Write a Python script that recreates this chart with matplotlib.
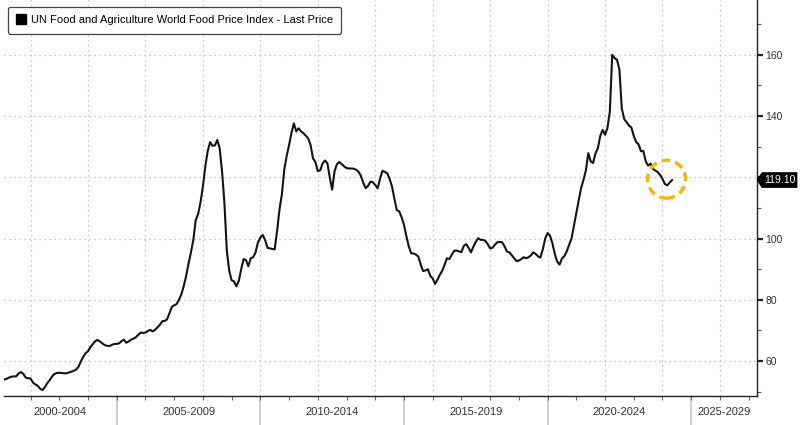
import matplotlib
matplotlib.use("Agg")
import matplotlib.pyplot as plt
import numpy as np
from matplotlib.lines import Line2D
from matplotlib.patches import Ellipse, Polygon
import matplotlib.transforms as mtrans

# ---------------- data (monthly, month-end, Jan 2001 - Apr 2024) ----------------
start_year = 2001
p2001_2004 = [54.0, 54.2, 54.6, 54.9, 55.0, 55.0, 56.0, 56.4, 55.8, 54.6, 54.4, 54.3,
              53.0, 52.4, 51.9, 51.0, 50.5, 51.5, 52.8, 53.8, 55.0, 55.8, 56.1, 56.2,
              56.1, 56.0, 56.0, 56.3, 56.5, 56.8, 57.2, 58.1, 59.8, 61.4, 62.6, 63.2,
              64.6, 65.5, 66.5, 66.9, 66.4, 65.8, 65.2, 65.0, 64.9, 65.3, 65.6, 65.6]
p2005_2009 = [65.8, 66.5, 67.0, 66.0, 66.4, 67.0, 67.3, 67.8, 68.6, 69.3, 69.2, 69.3,
              69.8, 70.2, 69.7, 70.2, 71.0, 71.8, 73.0, 73.1, 73.6, 75.5, 77.7, 78.2,
              78.6, 80.0, 81.8, 84.5, 87.8, 91.8, 95.5, 99.5, 106.0, 108.0, 111.8, 117.0,
              123.5, 128.5, 131.5, 130.3, 130.4, 132.2, 129.5, 122.0, 111.5, 96.0, 89.5, 86.4,
              86.0, 84.4, 86.2, 90.0, 93.3, 93.0, 91.0, 93.6, 93.9, 95.5, 98.8, 100.3]
p2010_2014 = [101.2, 99.5, 97.0, 96.8, 96.6, 96.5, 102.5, 109.5, 114.5, 122.5, 127.0, 130.5,
              134.5, 137.6, 135.0, 136.0, 135.0, 134.4, 133.6, 132.7, 130.5, 126.2, 125.0, 122.0,
              122.3, 124.5, 125.5, 124.6, 120.0, 116.0, 122.0, 124.3, 125.0, 124.3, 123.6, 123.0,
              122.9, 122.9, 122.8, 122.5, 121.8, 120.5, 118.2, 116.5, 117.2, 118.6, 118.4, 117.5,
              116.4, 119.5, 122.1, 121.8, 121.3, 119.5, 117.0, 113.0, 109.3, 108.9, 107.0, 104.5]
p2015_2019 = [100.8, 97.5, 95.2, 95.1, 94.8, 94.1, 91.5, 89.4, 89.6, 90.0, 87.8, 87.0,
              85.2, 86.6, 88.2, 89.5, 91.6, 93.6, 93.3, 94.8, 96.0, 96.1, 95.8, 95.6,
              97.6, 98.2, 97.0, 95.5, 97.4, 98.9, 100.1, 99.6, 99.6, 99.2, 98.2, 96.8,
              97.0, 98.0, 98.8, 98.9, 98.8, 97.5, 95.8, 95.5, 94.6, 93.6, 92.7, 92.8,
              93.3, 93.9, 93.6, 93.9, 94.5, 95.5, 95.0, 94.2, 93.8, 96.5, 100.0, 101.8]
p2020_2024 = [101.0, 98.5, 95.0, 92.5, 91.5, 93.5, 94.3, 95.8, 98.0, 100.0, 104.2, 108.5,
              112.5, 116.5, 119.2, 122.3, 127.9, 125.2, 124.7, 127.8, 129.5, 133.5, 135.5, 133.9,
              136.1, 141.5, 160.0, 158.9, 158.4, 155.1, 142.5, 139.0, 138.0, 136.9, 136.3, 133.5,
              131.5, 130.8, 128.5, 128.6, 125.2, 123.8, 124.5, 122.8, 122.2, 121.7, 120.8, 119.5,
              117.8, 117.4, 118.3, 119.1]

period_labels = ["2000-2004", "2005-2009", "2010-2014", "2015-2019", "2020-2024", "2025-2029"]
period_starts = [2000, 2005, 2010, 2015, 2020, 2025]
y_ticks = [60, 80, 100, 120, 140, 160]
series_name = "UN Food and Agriculture World Food Price Index - Last Price"

values = np.array(p2001_2004 + p2005_2009 + p2010_2014 + p2015_2019 + p2020_2024)
t = start_year + (np.arange(len(values)) + 1) / 12.0   # month-end as decimal year
last_val = values[-1]

# ---------------- figure ----------------
plt.rcParams['font.family'] = ['Liberation Sans', 'DejaVu Sans']
fig = plt.figure(figsize=(8, 4.25), dpi=100)
ax = fig.add_axes([4 / 800, 29 / 425, 753 / 800, 396 / 425])

x0, x1 = 2001.076, 2027.29
ax.set_xlim(x0, x1)
ax.set_ylim(48.6, 177.9)

ax.plot(t, values, color='#141414', lw=1.5, solid_joinstyle='round', zorder=3)

# grid
for yv in y_ticks:
    ax.axhline(yv, color='#b5b5b5', lw=0.9, ls=(0, (1, 3)), zorder=1)
for xv in range(2002, 2027, 2):
    ax.axvline(xv, color='#b5b5b5', lw=0.9, ls=(0, (1, 3)), zorder=1)

# spines
for s in ['top', 'left']:
    ax.spines[s].set_visible(False)
ax.spines['bottom'].set_color('#222222')
ax.spines['right'].set_color('#222222')
ax.spines['bottom'].set_linewidth(1.0)
ax.spines['right'].set_linewidth(1.0)

# y axis on right
ax.yaxis.tick_right()
ax.set_yticks(y_ticks)
ax.set_yticklabels([str(v) if v != 120 else "" for v in y_ticks])
ax.set_yticks(np.arange(50, 180, 10), minor=True)
ax.tick_params(axis='y', which='major', direction='out', length=4, width=1.6,
               colors='#222222', labelsize=7.5, pad=2, labelcolor='#333333')
ax.tick_params(axis='y', which='minor', direction='out', length=3, width=0.8, colors='#555555')

# x axis: yearly ticks, no labels
ax.set_xticks(np.arange(2002, 2028, 1))
ax.set_xticklabels([])
ax.tick_params(axis='x', which='major', direction='out', length=3, width=0.8, colors='#666666')

# period separators and labels
trans = mtrans.blended_transform_factory(ax.transData, ax.transAxes)
for ps in period_starts:
    if x0 < ps < x1:
        ax.plot([ps, ps], [0, -0.08], transform=trans, color='#cfcfcf', lw=1.5,
                clip_on=False, zorder=0)
for lab, ps in zip(period_labels, period_starts):
    a = max(ps, x0)
    b = min(ps + 5, x1)
    ax.text((a + b) / 2, -0.041, lab, transform=trans, ha='center', va='center',
            fontsize=8, color='#333333')

# last price tag (pointed box anchored at right spine)
transr = mtrans.blended_transform_factory(ax.transAxes, ax.transData)
tag_tr = mtrans.Affine2D() + mtrans.ScaledTranslation(1.0, last_val, transr)
tag = Polygon([(0, 0), (5, 7.5), (40, 7.5), (40, -7.5), (5, -7.5)], closed=True,
              transform=tag_tr, fc='black', ec='black', lw=0.5, clip_on=False, zorder=6)
ax.add_patch(tag)
ax.annotate(f"{last_val:.2f}", xy=(1.0, last_val), xycoords=transr,
            xytext=(23, 0), textcoords='offset pixels', ha='center', va='center',
            fontsize=7.5, color='white', annotation_clip=False, zorder=7)

# highlight circle
circ = Ellipse((2024.14, 119.4), width=2 * 19 / 28.72, height=2 * 19 / 3.065,
               fill=False, ec='#F7B500', lw=2.4, ls=(0, (2.6, 1.6)), zorder=4)
ax.add_patch(circ)

# legend
handle = Line2D([], [], marker='s', color='black', ls='none', ms=7)
leg = ax.legend([handle], [series_name], loc='upper left',
                bbox_to_anchor=(4 / 753, 1 - 7 / 396), fontsize=8,
                frameon=True, fancybox=True, handlelength=0.8, handletextpad=0.5,
                borderpad=0.75, borderaxespad=0)
leg.get_frame().set_edgecolor('#444444')
leg.get_frame().set_linewidth(0.9)
leg.get_frame().set_alpha(1)
leg.set_zorder(6)

fig.savefig("out.png", dpi=100)
